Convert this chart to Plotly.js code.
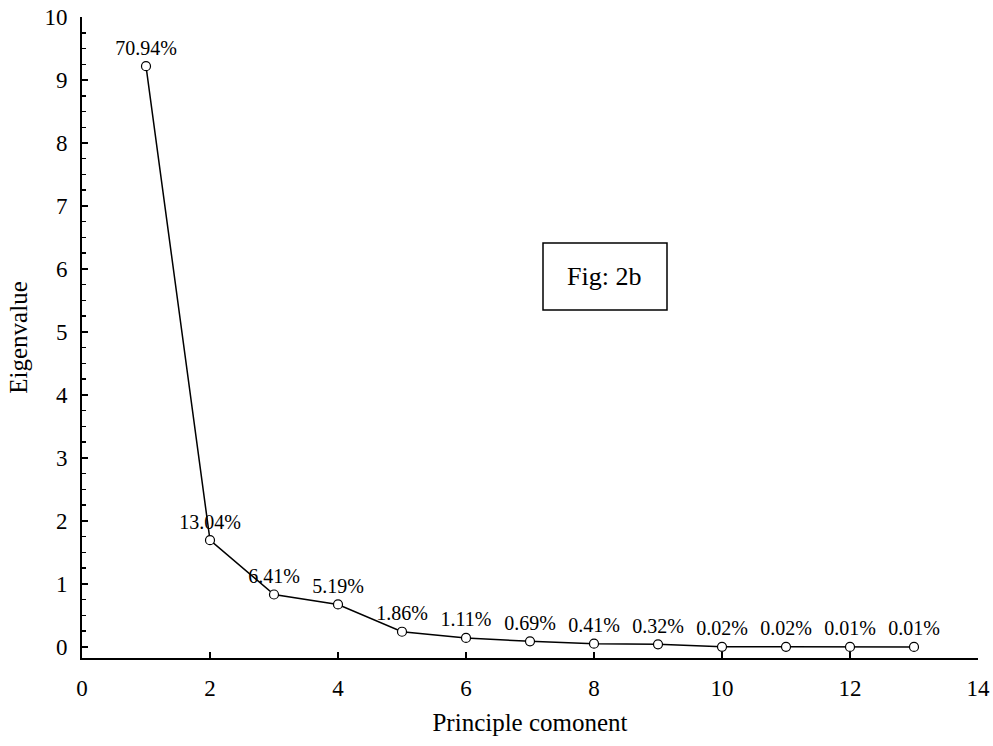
<!DOCTYPE html>
<html>
<head>
<meta charset="utf-8">
<script src="https://cdn.plot.ly/plotly-3.0.1.min.js"></script>
<style>html,body{margin:0;padding:0;background:#fff;}#chart{width:993px;height:746px;}</style>
</head>
<body>
<div id="chart"></div>
<script>
const components = [1, 2, 3, 4, 5, 6, 7, 8, 9, 10, 11, 12, 13];
const eigenvalues = [9.22, 1.695, 0.833, 0.675, 0.242, 0.144, 0.090, 0.053, 0.042, 0.003, 0.003, 0.001, 0.001];
const percentLabels = ["70.94%", "13.04%", "6.41%", "5.19%", "1.86%", "1.11%", "0.69%", "0.41%", "0.32%", "0.02%", "0.02%", "0.01%", "0.01%"];
const xTicks = [0, 2, 4, 6, 8, 10, 12, 14];
const yTicks = [0, 1, 2, 3, 4, 5, 6, 7, 8, 9, 10];

const font = "Liberation Serif";

const trace = {
  x: components,
  y: eigenvalues,
  mode: 'lines+markers+text',
  text: percentLabels,
  textposition: 'top center',
  textfont: {family: font, size: 20, color: '#000'},
  line: {color: '#000', width: 1.5},
  marker: {symbol: 'circle', size: 9, color: '#fff', line: {color: '#000', width: 1.2}},
  cliponaxis: false,
  hoverinfo: 'none'
};

const layout = {
  width: 993, height: 746,
  margin: {l: 82, r: 15, t: 17, b: 88},
  paper_bgcolor: '#fff', plot_bgcolor: '#fff',
  showlegend: false,
  font: {family: font, color: '#000'},
  xaxis: {
    range: [0, 14],
    tickvals: xTicks,
    ticktext: xTicks.map(String),
    showgrid: false, zeroline: false,
    showline: true, linecolor: '#000', linewidth: 2,
    ticks: 'inside', ticklen: 6, tickwidth: 2, tickcolor: '#000',
    tickfont: {family: font, size: 23, color: '#000'},
    ticklabelstandoff: 8,
    title: {text: 'Principle comonent', font: {family: font, size: 25, color: '#000'}, standoff: 14}
  },
  yaxis: {
    range: [-0.175, 10],
    tickvals: yTicks,
    ticktext: yTicks.map(String),
    showgrid: false, zeroline: false,
    showline: true, linecolor: '#000', linewidth: 2,
    ticks: 'inside', ticklen: 6, tickwidth: 2, tickcolor: '#000',
    minor: {dtick: 0.25, ticks: 'inside', ticklen: 4, tickwidth: 1.5, tickcolor: '#000', showgrid: false},
    tickfont: {family: font, size: 23, color: '#000'},
    ticklabelstandoff: 8,
    title: {text: 'Eigenvalue', font: {family: font, size: 25, color: '#000'}, standoff: 10}
  },
  shapes: [{
    type: 'rect', xref: 'paper', yref: 'paper',
    x0: (543 - 82) / 896, x1: (667 - 82) / 896,
    y0: (658 - 310) / 641, y1: (658 - 243) / 641,
    line: {color: '#000', width: 1.5}, fillcolor: 'rgba(0,0,0,0)'
  }],
  annotations: [{
    xref: 'paper', yref: 'paper',
    x: (604 - 82) / 896, y: (658 - 276) / 641,
    text: 'Fig: 2b', showarrow: false,
    font: {family: font, size: 26, color: '#000'},
    xanchor: 'center', yanchor: 'middle'
  }]
};

Plotly.newPlot('chart', [trace], layout, {displayModeBar: false, staticPlot: true});
</script>
</body>
</html>
